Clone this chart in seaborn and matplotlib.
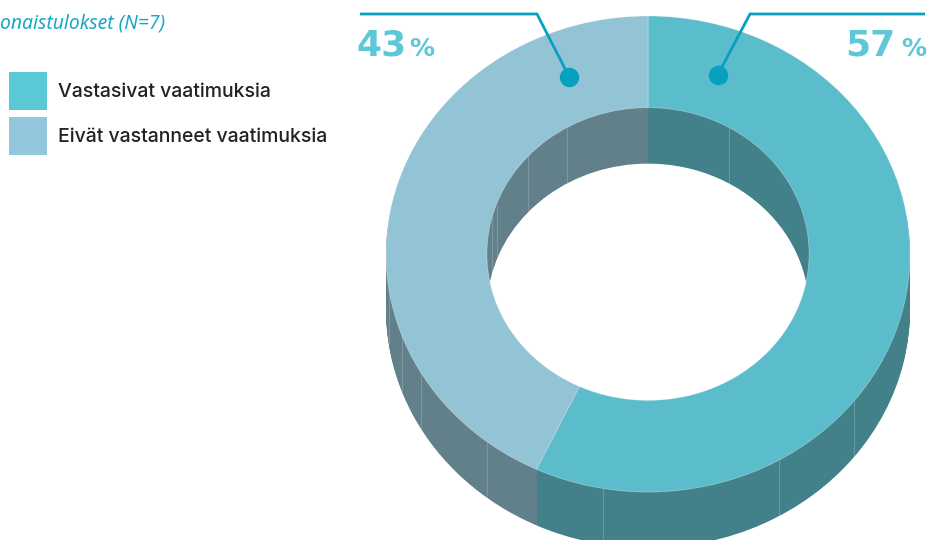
import numpy as np
import matplotlib
matplotlib.use("Agg")
import matplotlib.pyplot as plt
from matplotlib.patches import Rectangle
import seaborn as sns

# data
categories = ["Vastasivat vaatimuksia", "Eivät vastanneet vaatimuksia"]
shares = [57, 43]
title = "onaistulokset (N=7)"   # cut off at the left edge in the original

top_colors = ["#5bbccb", "#93c4d5"]
legend_colors = ["#58c9d5", "#93c8dc"]
side_colors = ["#43818a", "#62808a"]
label_color = "#5ec8d6"
line_color = "#07a1bf"

W, H = 930, 540
sns.set_theme(style="white")
plt.rcParams["font.family"] = ["Noto Sans", "DejaVu Sans"]

fig = plt.figure(figsize=(W / 100, H / 100), dpi=100)

# pie axes: unit circle -> ellipse, rx=262 px, ry=238 px, centre (648, 254)
cx, cy, rx, ry = 648, 254, 262, 238
depth = 56
ylo = 1 - (H - (cy - ry)) / ry
ax = fig.add_axes([(cx - rx) / W, 0, 2 * rx / W, (H - (cy - ry)) / H])
ax.patch.set_alpha(0)
hole = 0.615
width = 1 - hole

# extruded side: stack darker copies downwards
steps = 40
for k in range(steps, 0, -1):
    off = k * depth / steps / ry
    ax.pie(shares, colors=side_colors, startangle=90, counterclock=False,
           center=(0, -off), radius=1,
           wedgeprops=dict(width=width, linewidth=0))
# thin facet lines on the side walls
for ang in np.deg2rad([-60, -38, -100, -128, -150, -172, -200, -222, 200, 165, 120, 60]):
    for r in (1.0, hole):
        x = r * np.cos(ang)
        y = r * np.sin(ang)
        ax.plot([x, x], [y, y - depth / ry], color="white", alpha=0.18, lw=0.8, zorder=1)
# top face
ax.pie(shares, colors=top_colors, startangle=90, counterclock=False,
       radius=1, wedgeprops=dict(width=width, linewidth=0.6, edgecolor=(1, 1, 1, 0.35)))
ax.set_aspect("auto")
ax.set_xlim(-1, 1)
ax.set_ylim(ylo, 1)
ax.axis("off")

# overlay axes in pixel coordinates for annotations, on top of the pie
ov = fig.add_axes([0, 0, 1, 1])
ov.set_zorder(5)
ov.patch.set_alpha(0)
ov.set_xlim(0, W)
ov.set_ylim(H, 0)
ov.axis("off")

def to_px(r, deg):
    a = np.deg2rad(deg)
    return cx + rx * r * np.cos(a), cy - ry * r * np.sin(a)

dx1, dy1 = to_px(0.80, 70.5)
dx2, dy2 = to_px(0.80, 112.0)
ov.plot([925, 750, dx1], [14, 14, dy1], color=line_color, lw=2, solid_capstyle="butt")
ov.plot([360, 537, dx2], [14, 14, dy2], color=line_color, lw=2, solid_capstyle="butt")
ov.plot([dx1, dx2], [dy1, dy2], "o", color=line_color, ms=14, mec="none")

num_font = dict(color=label_color, fontsize=26, fontweight="bold",
                family=["DejaVu Sans"], va="baseline")
pct_font = dict(color=label_color, fontsize=18, fontweight="bold",
                family=["DejaVu Sans"], va="baseline")
ov.text(356, 56, f"{shares[1]}", ha="left", **num_font)
ov.text(409, 56, "%", ha="left", **pct_font)
ov.text(895, 56, f"{shares[0]}", ha="right", **num_font)
ov.text(926, 56, "%", ha="right", **pct_font)

# title
ov.text(0, 23, title, color="#1aa6c4", fontsize=13.9, style="italic",
        ha="left", va="center")

# legend
for i, (lab, col) in enumerate(zip(categories, legend_colors)):
    y0 = 72 + i * 45
    ov.add_patch(Rectangle((9, y0), 38, 38, facecolor=col, edgecolor="none"))
    ov.text(58, y0 + 20, lab, fontsize=14, fontweight="medium", color="#222222",
            family=["Inter", "Noto Sans", "DejaVu Sans"], ha="left", va="center")

fig.savefig("out.png", dpi=100)
